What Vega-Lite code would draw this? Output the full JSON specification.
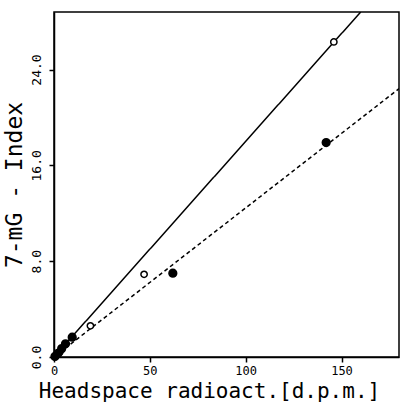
{
  "$schema": "https://vega.github.io/schema/vega-lite/v6.json",
  "width": 345,
  "height": 345,
  "autosize": "none",
  "padding": {"left": 54, "top": 12, "right": 5, "bottom": 46},
  "background": "white",
  "config": {
    "view": {"stroke": "black", "strokeWidth": 1.5},
    "font": "DejaVu Sans Mono",
    "axis": {"grid": false, "domainColor": "black", "domainWidth": 1.5, "tickColor": "black", "tickWidth": 1.5, "tickSize": 5, "labelColor": "black", "titleColor": "black", "labelFont": "DejaVu Sans Mono", "titleFont": "DejaVu Sans Mono", "titleFontWeight": "normal"}
  },
  "datasets": {
    "points": [
      {"x": 1, "y": 0.1, "series": "open"},
      {"x": 3, "y": 0.4, "series": "open"},
      {"x": 19, "y": 2.6, "series": "open"},
      {"x": 47, "y": 6.9, "series": "open"},
      {"x": 146, "y": 26.3, "series": "open"},
      {"x": 0.5, "y": 0.05, "series": "filled"},
      {"x": 2, "y": 0.3, "series": "filled"},
      {"x": 4, "y": 0.7, "series": "filled"},
      {"x": 6, "y": 1.1, "series": "filled"},
      {"x": 9.5, "y": 1.65, "series": "filled"},
      {"x": 62, "y": 7.0, "series": "filled"},
      {"x": 142, "y": 17.9, "series": "filled"}
    ],
    "lines": [
      {"x": 0, "y": 0, "fit": "open"},
      {"x": 160, "y": 28.8, "fit": "open"},
      {"x": 0, "y": 0, "fit": "filled"},
      {"x": 180, "y": 22.4, "fit": "filled"}
    ]
  },
  "layer": [
    {
      "data": {"name": "lines"},
      "mark": {"type": "line", "color": "black", "strokeWidth": 1.5, "clip": true},
      "encoding": {
        "x": {"field": "x", "type": "quantitative", "scale": {"domain": [0, 180], "nice": false},
          "axis": {"values": [0, 50, 100, 150], "title": "Headspace radioact.[d.p.m.]", "titleFontSize": 21, "labelFontSize": 12, "labelPadding": 3, "titleX": 155, "titleY": 40, "titleBaseline": "alphabetic", "titleAlign": "center", "labelFlush": false}},
        "y": {"field": "y", "type": "quantitative", "scale": {"domain": [0, 28.8], "nice": false},
          "axis": {"values": [0, 8, 16, 24], "format": ".1f", "title": "7-mG - Index", "titleFontSize": 23, "labelFontSize": 13, "labelAngle": -90, "labelAlign": "center", "labelBaseline": "bottom", "labelPadding": 6, "titlePadding": 4, "labelFlush": false}},
        "strokeDash": {"field": "fit", "type": "nominal", "scale": {"domain": ["open", "filled"], "range": [[1, 0], [4, 3]]}, "legend": null},
        "detail": {"field": "fit"}
      }
    },
    {
      "data": {"name": "points"},
      "mark": {"type": "point", "shape": "circle", "strokeWidth": 1.5, "color": "black", "opacity": 1},
      "encoding": {
        "x": {"field": "x", "type": "quantitative"},
        "y": {"field": "y", "type": "quantitative"},
        "fill": {"field": "series", "type": "nominal", "scale": {"domain": ["open", "filled"], "range": ["white", "black"]}, "legend": null},
        "size": {"field": "series", "type": "nominal", "scale": {"domain": ["open", "filled"], "range": [40, 60]}, "legend": null}
      }
    }
  ]
}
